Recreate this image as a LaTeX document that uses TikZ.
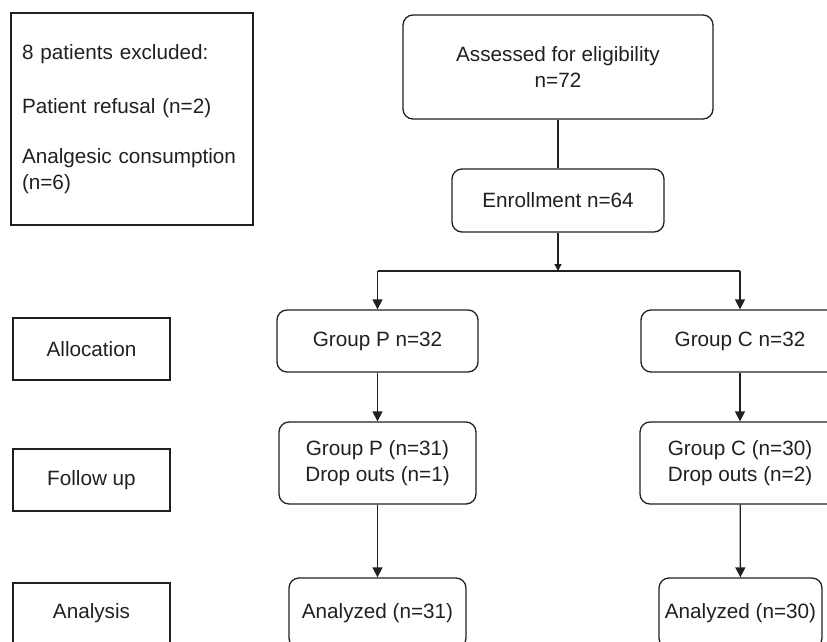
\documentclass[tikz,border=0pt]{standalone}
\usepackage{fontspec}
\setmainfont{Liberation Sans}
\usetikzlibrary{arrows.meta,positioning}
\definecolor{ink}{HTML}{231F20}

\begin{document}
\begin{tikzpicture}[x=1pt, y=-1pt, font=\fontsize{20.7}{26}\selectfont, ink, line width=1.3pt,
  box/.style={draw, rounded corners=10pt, align=center, inner sep=4pt},
  stage/.style={draw, minimum width=157pt, minimum height=62pt},
  flow/.style={-{Triangle[width=10pt,length=10pt]}},
]
\useasboundingbox (0,0) rectangle (827,642);

\node[draw, text width=220pt, minimum height=212pt, inner xsep=11pt, align=left] (excl) at (132,119)
  {8 patients excluded:\\[28pt]Patient refusal (n=2)\\[24pt]Analgesic consumption\\(n=6)};

\node[box, minimum width=310pt, minimum height=104pt] (assess) at (558,67) {Assessed for eligibility\\n=72};
\node[box, minimum width=212pt, minimum height=63pt] (enroll) at (558,200.5) {Enrollment n=64};
\coordinate (split) at (558,271);

\node[box, minimum width=201pt, minimum height=62pt] (gp1) at (377.5,341) {Group P n=32};
\node[box, minimum width=198pt, minimum height=62pt] (gc1) at (740,341) {Group C n=32};
\node[box, minimum width=197pt, minimum height=82pt] (gp2) at (377.5,463) {Group P (n=31)\\Drop outs (n=1)};
\node[box, minimum width=200pt, minimum height=82pt] (gc2) at (740,463) {Group C (n=30)\\Drop outs (n=2)};
\node[box, minimum width=177pt, minimum height=70pt] (gp3) at (377.5,613) {Analyzed (n=31)};
\node[box, minimum width=163pt, minimum height=70pt, inner xsep=2pt] (gc3) at (740.5,613) {Analyzed (n=30)};

\node[stage] (alloc) at (91.5,349) {Allocation};
\node[stage] (follow) at (91.5,480) {Follow up};
\node[stage, minimum height=60pt] (analysis) at (91.5,613) {Analysis};

\draw (assess) -- (enroll);
\draw[-{Triangle[width=7pt,length=7pt]}] (enroll) -- (split);
\draw (split -| gp1) -- (split -| gc1);
\draw[flow] (split -| gp1) -- (gp1);
\draw[flow] (split -| gc1) -- (gc1);
\draw[flow] (gp1) -- (gp2);
\draw[flow] (gp2) -- (gp3);
\draw[flow] (gc1) -- (gc2);
\draw[flow] (gc2) -- (gc3);

\end{tikzpicture}
\end{document}
